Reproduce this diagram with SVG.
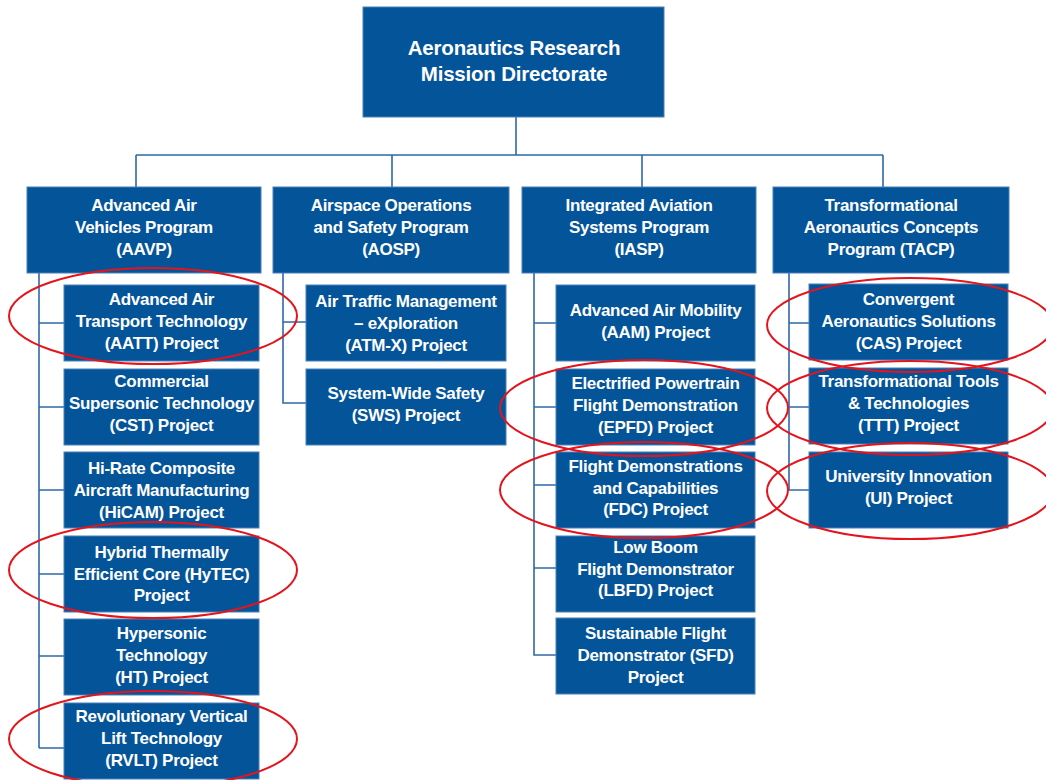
<svg xmlns="http://www.w3.org/2000/svg" width="1046" height="780" viewBox="0 0 1046 780">
<style>
.box{fill:#04549a;stroke:#4a80b8;stroke-width:1}
.t{fill:#ffffff;font-family:"Liberation Sans",Arial,sans-serif;font-weight:bold;font-size:17px;letter-spacing:-0.3px;text-anchor:middle}
.title{font-size:20.5px;letter-spacing:-0.2px}
.conn line,.conn path{stroke:#2f69a6;stroke-width:1.6;fill:none}
.ring{fill:none;stroke:#e3141c;stroke-width:2}
</style>
<rect width="1046" height="780" fill="#ffffff"/>
<g class="conn">
<path d="M516,117 V155 M136,155 H883 M136,155 V187 M392,155 V187 M642,155 V187 M883,155 V187"/>
<path d="M39,273 V748 M39,323 H64 M39,407 H64 M39,490 H64 M39,574 H64 M39,656 H64 M39,748 H64"/>
<path d="M283,273 V403 H306 M283,322 H306"/>
<path d="M534,273 V655 H556 M534,323 H556 M534,407 H556 M534,485 H556 M534,568 H556"/>
<path d="M789,273 V490 H809 M789,323 H809 M789,407 H809"/>
</g>
<g id="armd"><rect class="box" x="363" y="7" width="301" height="110"/>
<text class="t title" x="514" y="55">Aeronautics Research</text><text class="t title" x="514" y="81">Mission Directorate</text></g>
<g id="aavp"><rect class="box" x="27" y="187" width="234" height="86"/>
<text class="t" x="144" y="211">Advanced Air</text><text class="t" x="144" y="233">Vehicles Program</text><text class="t" x="144" y="255">(AAVP)</text></g>
<g id="aosp"><rect class="box" x="273" y="187" width="236" height="86"/>
<text class="t" x="391" y="211">Airspace Operations</text><text class="t" x="391" y="233">and Safety Program</text><text class="t" x="391" y="255">(AOSP)</text></g>
<g id="iasp"><rect class="box" x="522" y="187" width="234" height="86"/>
<text class="t" x="639" y="211">Integrated Aviation</text><text class="t" x="639" y="233">Systems Program</text><text class="t" x="639" y="255">(IASP)</text></g>
<g id="tacp"><rect class="box" x="773" y="187" width="236" height="86"/>
<text class="t" x="891" y="211">Transformational</text><text class="t" x="891" y="233">Aeronautics Concepts</text><text class="t" x="891" y="255">Program (TACP)</text></g>

<g id="aatt"><rect class="box" x="64" y="285" width="195" height="76"/>
<text class="t" x="161.5" y="305">Advanced Air</text><text class="t" x="161.5" y="327">Transport Technology</text><text class="t" x="161.5" y="349">(AATT) Project</text></g>
<g id="cst"><rect class="box" x="64" y="369" width="195" height="76"/>
<text class="t" x="161.5" y="387">Commercial</text><text class="t" x="161.5" y="409">Supersonic Technology</text><text class="t" x="161.5" y="431">(CST) Project</text></g>
<g id="hicam"><rect class="box" x="64" y="452" width="195" height="76"/>
<text class="t" x="161.5" y="474">Hi-Rate Composite</text><text class="t" x="161.5" y="496">Aircraft Manufacturing</text><text class="t" x="161.5" y="518">(HiCAM) Project</text></g>
<g id="hytec"><rect class="box" x="64" y="536" width="195" height="76"/>
<text class="t" x="161.5" y="558">Hybrid Thermally</text><text class="t" x="161.5" y="580">Efficient Core (HyTEC)</text><text class="t" x="161.5" y="601">Project</text></g>
<g id="ht"><rect class="box" x="64" y="619" width="195" height="76"/>
<text class="t" x="161.5" y="639">Hypersonic</text><text class="t" x="161.5" y="661">Technology</text><text class="t" x="161.5" y="683">(HT) Project</text></g>
<g id="rvlt"><rect class="box" x="64" y="703" width="195" height="76"/>
<text class="t" x="161.5" y="722">Revolutionary Vertical</text><text class="t" x="161.5" y="744">Lift Technology</text><text class="t" x="161.5" y="766">(RVLT) Project</text></g>

<g id="atmx"><rect class="box" x="306" y="285" width="200" height="76"/>
<text class="t" x="406" y="307">Air Traffic Management</text><text class="t" x="406" y="329">– eXploration</text><text class="t" x="406" y="351">(ATM-X) Project</text></g>
<g id="sws"><rect class="box" x="306" y="369" width="200" height="76"/>
<text class="t" x="406" y="399">System-Wide Safety</text><text class="t" x="406" y="421">(SWS) Project</text></g>

<g id="aam"><rect class="box" x="556" y="285" width="199" height="76"/>
<text class="t" x="655.5" y="316">Advanced Air Mobility</text><text class="t" x="655.5" y="338">(AAM) Project</text></g>
<g id="epfd"><rect class="box" x="556" y="369" width="199" height="76"/>
<text class="t" x="655.5" y="389">Electrified Powertrain</text><text class="t" x="655.5" y="411">Flight Demonstration</text><text class="t" x="655.5" y="433">(EPFD) Project</text></g>
<g id="fdc"><rect class="box" x="556" y="452" width="199" height="76"/>
<text class="t" x="655.5" y="472">Flight Demonstrations</text><text class="t" x="655.5" y="494">and Capabilities</text><text class="t" x="655.5" y="515">(FDC) Project</text></g>
<g id="lbfd"><rect class="box" x="556" y="536" width="199" height="76"/>
<text class="t" x="655.5" y="553">Low Boom</text><text class="t" x="655.5" y="575">Flight Demonstrator</text><text class="t" x="655.5" y="596">(LBFD) Project</text></g>
<g id="sfd"><rect class="box" x="556" y="618" width="199" height="76"/>
<text class="t" x="655.5" y="639">Sustainable Flight</text><text class="t" x="655.5" y="661">Demonstrator (SFD)</text><text class="t" x="655.5" y="683">Project</text></g>

<g id="cas"><rect class="box" x="809" y="284" width="199" height="76"/>
<text class="t" x="908.5" y="305">Convergent</text><text class="t" x="908.5" y="327">Aeronautics Solutions</text><text class="t" x="908.5" y="349">(CAS) Project</text></g>
<g id="ttt"><rect class="box" x="809" y="368" width="199" height="76"/>
<text class="t" x="908.5" y="387">Transformational Tools</text><text class="t" x="908.5" y="409">&amp; Technologies</text><text class="t" x="908.5" y="431">(TTT) Project</text></g>
<g id="ui"><rect class="box" x="809" y="452" width="199" height="76"/>
<text class="t" x="908.5" y="482">University Innovation</text><text class="t" x="908.5" y="504">(UI) Project</text></g>

<g id="highlights">
<ellipse class="ring" cx="153" cy="316" rx="144" ry="48"/>
<ellipse class="ring" cx="153" cy="570" rx="144" ry="48"/>
<ellipse class="ring" cx="153" cy="739" rx="144" ry="48"/>
<ellipse class="ring" cx="644" cy="408" rx="144" ry="48"/>
<ellipse class="ring" cx="644" cy="490" rx="144" ry="48"/>
<ellipse class="ring" cx="910" cy="325" rx="143" ry="47"/>
<ellipse class="ring" cx="910" cy="408" rx="143" ry="47"/>
<ellipse class="ring" cx="910" cy="491" rx="143" ry="48"/>
</g>
</svg>
